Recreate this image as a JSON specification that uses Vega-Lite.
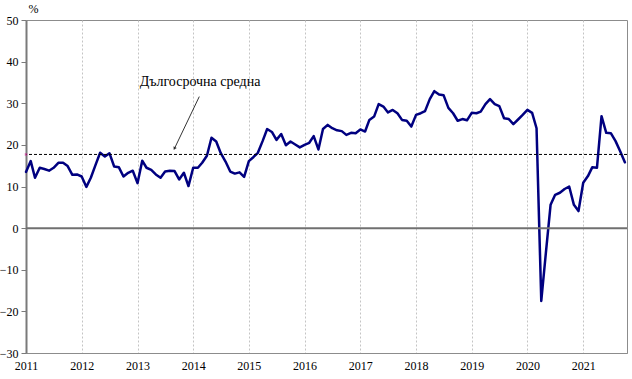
{
  "$schema": "https://vega.github.io/schema/vega-lite/v6.json",
  "width": 601,
  "height": 333,
  "autosize": {"type": "none"},
  "padding": {"left": 26, "top": 20, "right": 5, "bottom": 26},
  "background": "white",
  "config": {
    "view": {"stroke": "#8c8c8c", "strokeWidth": 1},
    "font": "Liberation Serif"
  },
  "datasets": {
    "series": [
      {"date": "2011-01-01", "value": 13.5}, {"date": "2011-02-01", "value": 16.1}, {"date": "2011-03-01", "value": 12.1}, {"date": "2011-04-01", "value": 14.5}, {"date": "2011-05-01", "value": 14.2}, {"date": "2011-06-01", "value": 13.8}, {"date": "2011-07-01", "value": 14.5}, {"date": "2011-08-01", "value": 15.7}, {"date": "2011-09-01", "value": 15.7}, {"date": "2011-10-01", "value": 14.9}, {"date": "2011-11-01", "value": 12.8}, {"date": "2011-12-01", "value": 12.9},
      {"date": "2012-01-01", "value": 12.4}, {"date": "2012-02-01", "value": 9.9}, {"date": "2012-03-01", "value": 12.1}, {"date": "2012-04-01", "value": 15.2}, {"date": "2012-05-01", "value": 18.1}, {"date": "2012-06-01", "value": 17.2}, {"date": "2012-07-01", "value": 18.0}, {"date": "2012-08-01", "value": 14.8}, {"date": "2012-09-01", "value": 14.6}, {"date": "2012-10-01", "value": 12.4}, {"date": "2012-11-01", "value": 13.3}, {"date": "2012-12-01", "value": 13.8},
      {"date": "2013-01-01", "value": 10.8}, {"date": "2013-02-01", "value": 16.2}, {"date": "2013-03-01", "value": 14.5}, {"date": "2013-04-01", "value": 14.0}, {"date": "2013-05-01", "value": 12.9}, {"date": "2013-06-01", "value": 12.1}, {"date": "2013-07-01", "value": 13.6}, {"date": "2013-08-01", "value": 13.8}, {"date": "2013-09-01", "value": 13.7}, {"date": "2013-10-01", "value": 11.7}, {"date": "2013-11-01", "value": 13.3}, {"date": "2013-12-01", "value": 10.1},
      {"date": "2014-01-01", "value": 14.5}, {"date": "2014-02-01", "value": 14.5}, {"date": "2014-03-01", "value": 15.7}, {"date": "2014-04-01", "value": 17.4}, {"date": "2014-05-01", "value": 21.7}, {"date": "2014-06-01", "value": 20.8}, {"date": "2014-07-01", "value": 18.0}, {"date": "2014-08-01", "value": 16.0}, {"date": "2014-09-01", "value": 13.6}, {"date": "2014-10-01", "value": 13.1}, {"date": "2014-11-01", "value": 13.4}, {"date": "2014-12-01", "value": 12.3},
      {"date": "2015-01-01", "value": 16.1}, {"date": "2015-02-01", "value": 17.1}, {"date": "2015-03-01", "value": 18.1}, {"date": "2015-04-01", "value": 20.9}, {"date": "2015-05-01", "value": 23.8}, {"date": "2015-06-01", "value": 23.1}, {"date": "2015-07-01", "value": 21.2}, {"date": "2015-08-01", "value": 22.6}, {"date": "2015-09-01", "value": 19.9}, {"date": "2015-10-01", "value": 20.8}, {"date": "2015-11-01", "value": 20.1}, {"date": "2015-12-01", "value": 19.4},
      {"date": "2016-01-01", "value": 20.0}, {"date": "2016-02-01", "value": 20.5}, {"date": "2016-03-01", "value": 22.1}, {"date": "2016-04-01", "value": 18.9}, {"date": "2016-05-01", "value": 23.8}, {"date": "2016-06-01", "value": 24.8}, {"date": "2016-07-01", "value": 24.0}, {"date": "2016-08-01", "value": 23.5}, {"date": "2016-09-01", "value": 23.3}, {"date": "2016-10-01", "value": 22.4}, {"date": "2016-11-01", "value": 22.9}, {"date": "2016-12-01", "value": 22.8},
      {"date": "2017-01-01", "value": 23.7}, {"date": "2017-02-01", "value": 23.2}, {"date": "2017-03-01", "value": 26.0}, {"date": "2017-04-01", "value": 26.8}, {"date": "2017-05-01", "value": 29.8}, {"date": "2017-06-01", "value": 29.2}, {"date": "2017-07-01", "value": 27.8}, {"date": "2017-08-01", "value": 28.4}, {"date": "2017-09-01", "value": 27.6}, {"date": "2017-10-01", "value": 26.0}, {"date": "2017-11-01", "value": 25.8}, {"date": "2017-12-01", "value": 24.4},
      {"date": "2018-01-01", "value": 27.2}, {"date": "2018-02-01", "value": 27.6}, {"date": "2018-03-01", "value": 28.1}, {"date": "2018-04-01", "value": 31.0}, {"date": "2018-05-01", "value": 32.9}, {"date": "2018-06-01", "value": 32.1}, {"date": "2018-07-01", "value": 31.9}, {"date": "2018-08-01", "value": 28.9}, {"date": "2018-09-01", "value": 27.6}, {"date": "2018-10-01", "value": 25.8}, {"date": "2018-11-01", "value": 26.2}, {"date": "2018-12-01", "value": 25.9},
      {"date": "2019-01-01", "value": 27.7}, {"date": "2019-02-01", "value": 27.6}, {"date": "2019-03-01", "value": 28.0}, {"date": "2019-04-01", "value": 29.8}, {"date": "2019-05-01", "value": 31.0}, {"date": "2019-06-01", "value": 29.8}, {"date": "2019-07-01", "value": 29.3}, {"date": "2019-08-01", "value": 26.4}, {"date": "2019-09-01", "value": 26.2}, {"date": "2019-10-01", "value": 25.0}, {"date": "2019-11-01", "value": 26.1}, {"date": "2019-12-01", "value": 27.2},
      {"date": "2020-01-01", "value": 28.4}, {"date": "2020-02-01", "value": 27.7}, {"date": "2020-03-01", "value": 24.0}, {"date": "2020-04-01", "value": -17.5}, {"date": "2020-05-01", "value": -6.0}, {"date": "2020-06-01", "value": 5.6}, {"date": "2020-07-01", "value": 8.0}, {"date": "2020-08-01", "value": 8.5}, {"date": "2020-09-01", "value": 9.4}, {"date": "2020-10-01", "value": 10.0}, {"date": "2020-11-01", "value": 5.6}, {"date": "2020-12-01", "value": 4.1},
      {"date": "2021-01-01", "value": 10.9}, {"date": "2021-02-01", "value": 12.5}, {"date": "2021-03-01", "value": 14.6}, {"date": "2021-04-01", "value": 14.5}, {"date": "2021-05-01", "value": 26.9}, {"date": "2021-06-01", "value": 22.9}, {"date": "2021-07-01", "value": 22.8}, {"date": "2021-08-01", "value": 20.9}, {"date": "2021-09-01", "value": 18.4}, {"date": "2021-10-01", "value": 15.8}
    ],
    "zero": [{"value": 0}],
    "average": [{"date": "2011-01-01", "value": 17.7}],
    "label": [{"date": "2014-02-15", "value": 35.1, "text": "Дългосрочна средна"}],
    "arrow": [{"date": "2014-02-10", "value": 31.6, "date2": "2013-08-31", "value2": 19.1}],
    "head": [{"date": "2013-08-31", "value": 19.1}]
  },
  "layer": [
    {
      "data": {"name": "series"},
      "mark": {"type": "line", "color": "#000080", "strokeWidth": 2.5, "strokeJoin": "round", "strokeCap": "round"},
      "encoding": {
        "x": {
          "field": "date", "type": "temporal",
          "scale": {"domain": [{"year": 2011, "month": 1, "date": 1}, {"year": 2021, "month": 10, "date": 15}]},
          "axis": {
            "title": null, "format": "%Y", "tickCount": {"interval": "year", "step": 1},
            "grid": true, "gridColor": "#c4c4c4", "gridDash": [2, 2], "ticks": false,
            "domainColor": "#8c8c8c", "labelPadding": 7, "labelFontSize": 12, "labelColor": "#000000",
            "labelFlush": false, "labelFont": "Liberation Serif"
          }
        },
        "y": {
          "field": "value", "type": "quantitative",
          "scale": {"domain": [-30, 50], "nice": false},
          "axis": {
            "title": "%", "titleAngle": 0, "titleAlign": "left", "titleBaseline": "bottom",
            "titleX": 2, "titleY": -5, "titleFont": "Liberation Serif", "titleFontSize": 12,
            "titleFontWeight": "normal", "titleColor": "#000000",
            "values": [-30, -20, -10, 0, 10, 20, 30, 40, 50], "grid": false,
            "domainColor": "#7a7a7a", "domainWidth": 2, "tickColor": "#7a7a7a", "tickSize": 5,
            "labelPadding": 3, "labelFontSize": 12, "labelColor": "#000000", "labelFont": "Liberation Serif"
          }
        }
      }
    },
    {
      "data": {"name": "zero"},
      "mark": {"type": "rule", "color": "#707070", "strokeWidth": 2},
      "encoding": {
        "y": {"field": "value", "type": "quantitative"}
      }
    },
    {
      "data": {"name": "average"},
      "mark": {"type": "rule", "color": "#000000", "strokeWidth": 1, "strokeDash": [3, 2]},
      "encoding": {
        "y": {"field": "value", "type": "quantitative"}
      }
    },
    {
      "data": {"name": "average"},
      "mark": {"type": "point", "shape": "square", "filled": true, "color": "#cc3399", "size": 6},
      "encoding": {
        "x": {"field": "date", "type": "temporal"},
        "y": {"field": "value", "type": "quantitative"}
      }
    },
    {
      "data": {"name": "arrow"},
      "mark": {"type": "rule", "color": "#000000", "strokeWidth": 0.8},
      "encoding": {
        "x": {"field": "date", "type": "temporal"},
        "y": {"field": "value", "type": "quantitative"},
        "x2": {"field": "date2"},
        "y2": {"field": "value2"}
      }
    },
    {
      "data": {"name": "head"},
      "mark": {"type": "point", "shape": "triangle-up", "filled": true, "color": "#000000", "size": 14, "angle": 206},
      "encoding": {
        "x": {"field": "date", "type": "temporal"},
        "y": {"field": "value", "type": "quantitative"}
      }
    },
    {
      "data": {"name": "label"},
      "mark": {"type": "text", "font": "Liberation Serif", "fontSize": 14, "color": "#000000", "align": "center", "baseline": "middle"},
      "encoding": {
        "x": {"field": "date", "type": "temporal"},
        "y": {"field": "value", "type": "quantitative"},
        "text": {"field": "text"}
      }
    }
  ]
}
